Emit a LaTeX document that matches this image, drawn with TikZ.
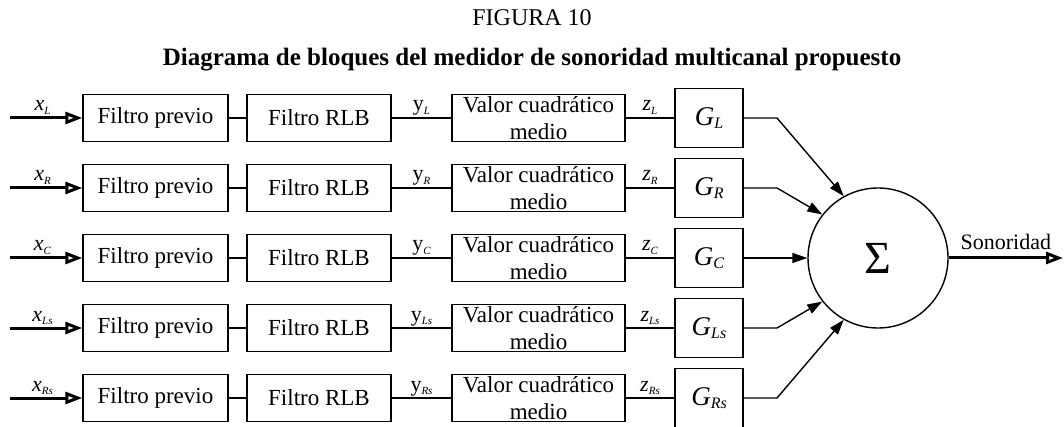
\documentclass[tikz,border=0pt]{standalone}
\usepackage{fontspec}
\setmainfont{Liberation Serif}
\usetikzlibrary{arrows.meta}

\begin{document}
\begin{tikzpicture}[x=1pt, y=-1pt, inner sep=1pt,
  blk/.style={draw, line width=1.4pt, minimum height=47pt, inner sep=0pt,
    font=\fontsize{23}{27}\selectfont},
  gain/.style={draw, line width=1.4pt, minimum width=68pt, minimum height=59pt,
    font=\fontsize{27}{27}\selectfont},
  sig/.style={font=\fontsize{22}{22}\selectfont, anchor=base, yshift=7pt},
  feed/.style={line width=3pt, -{Triangle[open, length=17pt, width=12pt]}},
  wire/.style={line width=1.4pt},
  sumin/.style={line width=1.4pt, -{Triangle[length=15pt, width=10pt]}}]
\useasboundingbox (0,0) rectangle (1064,427);
% small italic index under a signal name
\newcommand{\sub}[2][11]{\raisebox{-.3ex}{\fontsize{#1}{#1}\selectfont\itshape #2}}

\node[font=\fontsize{24}{24}\selectfont] (fig) at (532,18) {FIGURA 10};
\node[font=\fontsize{25}{25}\selectfont\bfseries] (tit) at (532,60)
  {Diagrama de bloques del medidor de sonoridad multicanal propuesto};

\node[draw, circle, line width=1.4pt, minimum size=140pt, inner sep=0pt,
  font=\fontsize{46}{46}\selectfont] (sum) at (878,258) {Σ};
\coordinate (out) at (1063,258);
\draw[feed] (sum.east) -- (out)
  node[midway, font=\fontsize{22}{22}\selectfont, above=6pt] (son) {Sonoridad};

\foreach \i/\y/\s/\a in {1/118/L/119.5, 2/188/R/142.5, 3/258/C/180,
                         4/328/Ls/218.8, 5/398/Rs/241.7} {
  \coordinate (in\i) at (10,\y);
  \node[blk, minimum width=145pt] (fp\i) at (155.5,\y) {Filtro previo};
  \node[blk, minimum width=144pt] (rlb\i) at (319,\y) {Filtro RLB};
  \node[blk, minimum width=173pt, align=center] (vcm\i) at (538.5,\y)
    {Valor cuadrático\\medio};
  \node[gain] (g\i) at (709,\y) {\itshape G\sub[16]{\s}};
  \coordinate (bend\i) at (777,\y);

  \draw[feed] (in\i) -- (fp\i.west)
    node[sig, pos=.45] (xlab\i) {\itshape x\sub{\s}};
  \draw[wire] (fp\i) -- (rlb\i);
  \draw[wire] (rlb\i) -- (vcm\i)
    node[sig, midway] (ylab\i) {y\sub{\s}};
  \draw[wire] (vcm\i) -- (g\i)
    node[sig, midway] (zlab\i) {\itshape z\sub{\s}};
  \draw[sumin] (g\i.east) -- (bend\i) -- (sum.\a);
}
\end{tikzpicture}
\end{document}
